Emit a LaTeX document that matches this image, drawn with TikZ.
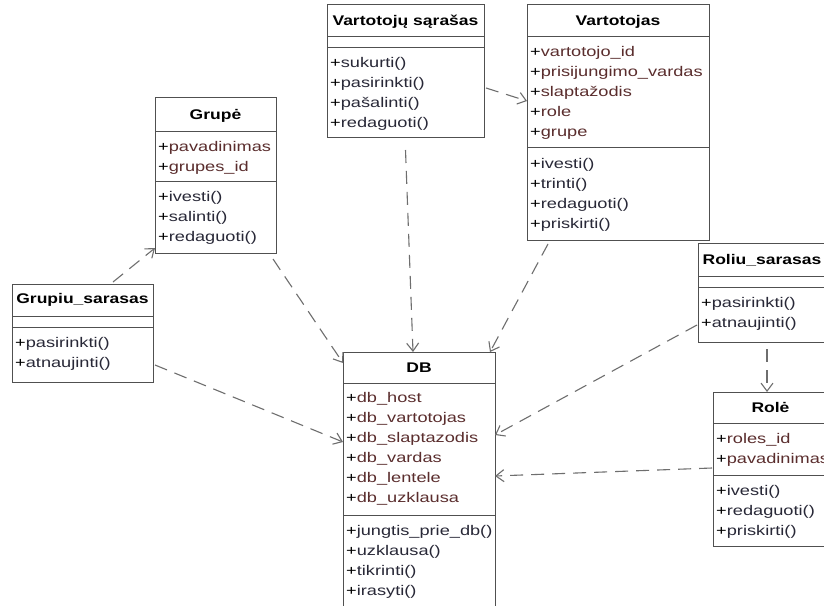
\documentclass[tikz,border=0pt]{standalone}
\usepackage{fontspec}
\setmainfont{Liberation Sans}[FakeStretch=1.25]
\newfontfamily\memberfont{Liberation Sans}[FakeStretch=1.3]
\usetikzlibrary{arrows.meta}

\definecolor{boxline}{RGB}{80,80,80}
\definecolor{attrtext}{RGB}{90,45,45}
\definecolor{optext}{RGB}{40,40,55}
\definecolor{linkline}{RGB}{110,110,110}

\tikzset{
  classbox/.style={draw=boxline, line width=1pt, fill=white, inner sep=0pt,
    outer sep=0pt, anchor=north west},
  classname/.style={font=\fontsize{14}{16}\selectfont\bfseries, anchor=base, inner sep=0pt},
  member/.style={font=\memberfont\fontsize{14}{16}\selectfont, anchor=base west, inner sep=0pt},
  divider/.style={draw=boxline, line width=1pt},
  depends/.style={draw=linkline, line width=1.1pt, dash pattern=on 13pt off 8pt,
    -{Straight Barb[length=8pt,width=12pt]}},
}

% one row per member: +name, stacked 20pt apart
\newcommand\memberlist[5]{%
  \foreach \m [count=\k] in {#5}
    \node[member] (#1\k) at (#2,{#3+20*(\k-1)}) {+\textcolor{#4}{\m}};
}
% horizontal compartment line at a given depth below the top of a class
\newcommand\compartment[2]{%
  \draw[divider] ([yshift=-#2pt]#1.north west) -- ([yshift=-#2pt]#1.north east);
}

\begin{document}
\begin{tikzpicture}[x=1pt,y=-1pt]
\useasboundingbox (0,0) rectangle (824,605);
\clip (0,0) rectangle (824,605);
\fill[white] (0,0) rectangle (824,605);

% ---- Grupe
\node[classbox, minimum width=121pt, minimum height=156pt] (grupe) at (155,97) {};
\node[classname] (grupe-name) at (215.5,119) {Grupė};
\compartment{grupe}{34}
\compartment{grupe}{84}
\memberlist{grupe-a}{158}{151}{attrtext}{pavadinimas,grupes\_id}
\memberlist{grupe-o}{158}{201}{optext}{ivesti(),salinti(),redaguoti()}

% ---- Vartotoju sarasas
\node[classbox, minimum width=157pt, minimum height=133pt] (vsar) at (327,4) {};
\node[classname] (vsar-name) at (405.5,25) {Vartotojų sąrašas};
\compartment{vsar}{32}
\compartment{vsar}{43}
\memberlist{vsar-o}{330}{67}{optext}{sukurti(),pasirinkti(),pašalinti(),redaguoti()}

% ---- Vartotojas
\node[classbox, minimum width=182pt, minimum height=236pt] (vart) at (527,4) {};
\node[classname] (vart-name) at (618,25) {Vartotojas};
\compartment{vart}{32}
\compartment{vart}{143}
\memberlist{vart-a}{530}{56}{attrtext}{vartotojo\_id,prisijungimo\_vardas,slaptažodis,role,grupe}
\memberlist{vart-o}{530}{168}{optext}{ivesti(),trinti(),redaguoti(),priskirti()}

% ---- Grupiu sarasas
\node[classbox, minimum width=141pt, minimum height=98pt] (gsar) at (12,284) {};
\node[classname] (gsar-name) at (82.5,303) {Grupiu\_sarasas};
\compartment{gsar}{32}
\compartment{gsar}{43}
\memberlist{gsar-o}{15}{347}{optext}{pasirinkti(),atnaujinti()}

% ---- DB
\node[classbox, minimum width=152pt, minimum height=270pt] (db) at (343,352) {};
\node[classname] (db-name) at (419,372) {DB};
\compartment{db}{31}
\compartment{db}{163}
\memberlist{db-a}{346}{402}{attrtext}{db\_host,db\_vartotojas,db\_slaptazodis,db\_vardas,db\_lentele,db\_uzklausa}
\memberlist{db-o}{346}{535}{optext}{jungtis\_prie\_db(),uzklausa(),tikrinti(),irasyti()}

% ---- Roliu sarasas
\node[classbox, minimum width=128pt, minimum height=99pt] (rsar) at (698,243) {};
\node[classname] (rsar-name) at (762,264) {Roliu\_sarasas};
\compartment{rsar}{33}
\compartment{rsar}{44}
\memberlist{rsar-o}{701}{307}{optext}{pasirinkti(),atnaujinti()}

% ---- Role
\node[classbox, minimum width=115pt, minimum height=154pt] (role) at (713,392) {};
\node[classname] (role-name) at (770.5,412) {Rolė};
\compartment{role}{31}
\compartment{role}{83}
\memberlist{role-a}{716}{443}{attrtext}{roles\_id,pavadinimas}
\memberlist{role-o}{716}{495}{optext}{ivesti(),redaguoti(),priskirti()}

% ---- dependencies
\draw[depends] ([xshift=101pt,yshift=2pt]gsar.north west) -- ([yshift=5pt]grupe.south west);
\draw[depends] ([xshift=-3pt,yshift=-6pt]grupe.south east) -- ([yshift=-11pt]db.north west);
\draw[depends] ([xshift=2pt,yshift=17pt]gsar.south east) -- ([yshift=-90pt]db.north west);
\draw[depends] ([xshift=2pt,yshift=-84pt]vsar.north east) -- ([yshift=-97pt]vart.north west);
\draw[depends] ([yshift=-13pt]vsar.south) -- ([xshift=70pt]db.north west);
\draw[depends] ([xshift=21pt,yshift=-4pt]vart.south west) -- ([xshift=-5pt]db.north east);
\draw[depends] ([xshift=-1pt,yshift=17pt]rsar.south west) -- ([yshift=-83pt]db.north east);
\draw[depends] ([xshift=69pt,yshift=-7pt]rsar.south west) -- ([xshift=54pt]role.north west);
\draw[depends] ([xshift=-1pt,yshift=-76pt]role.north west) -- ([yshift=-124pt]db.north east);
\end{tikzpicture}
\end{document}
